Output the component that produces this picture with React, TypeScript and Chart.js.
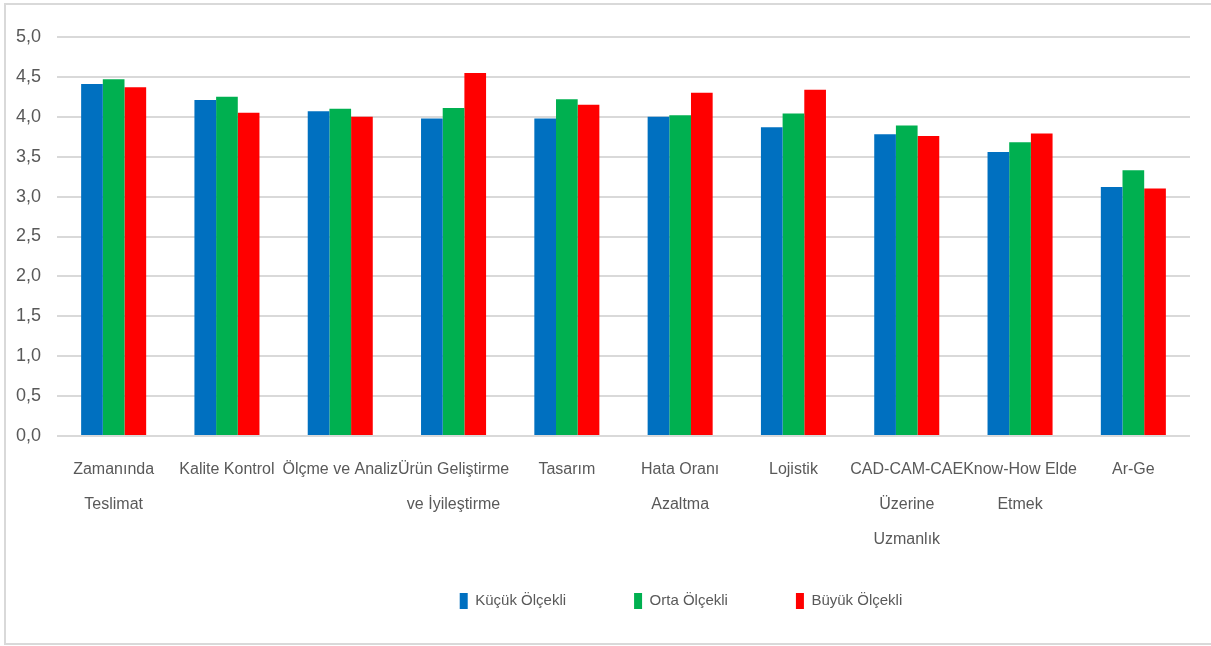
import React, { useEffect, useRef } from "react";
import { Chart, registerables } from "chart.js";

Chart.register(...registerables);

const categories: (string | string[])[] = [
  ["Zamanında", "Teslimat"],
  "Kalite Kontrol",
  "Ölçme ve Analiz",
  ["Ürün Geliştirme", "ve İyileştirme"],
  "Tasarım",
  ["Hata Oranı", "Azaltma"],
  "Lojistik",
  ["CAD-CAM-CAE", "Üzerine", "Uzmanlık"],
  ["Know-How Elde", "Etmek"],
  "Ar-Ge",
];

const kucuk = [4.41, 4.21, 4.07, 3.98, 3.98, 4.0, 3.87, 3.78, 3.56, 3.12];
const orta = [4.47, 4.25, 4.1, 4.11, 4.22, 4.02, 4.04, 3.89, 3.68, 3.33];
const buyuk = [4.37, 4.05, 4.0, 4.55, 4.15, 4.3, 4.34, 3.76, 3.79, 3.1];

const seriesNames = ["Küçük Ölçekli", "Orta Ölçekli", "Büyük Ölçekli"];
const seriesColors = ["#0070C0", "#00B050", "#FF0000"];

const FONT = "'Liberation Sans', Arial, sans-serif";
const TEXT = "#595959";

const framePlugin = {
  id: "frame",
  beforeDraw(chart: any) {
    const ctx = chart.ctx;
    ctx.save();
    ctx.fillStyle = "#ffffff";
    ctx.fillRect(0, 0, chart.width, chart.height);
    ctx.strokeStyle = "#d9d9d9";
    ctx.lineWidth = 2;
    ctx.strokeRect(5, 4, chart.width + 20, 640);
    ctx.restore();
  },
};

// nudge the legend box to where the original places its row
const legendPlace = {
  id: "legendPlace",
  afterLayout(chart: any) {
    const l = chart.legend;
    if (!l) return;
    l.top -= 27;
    l.bottom -= 27;
    l.left += 86;
    l.right += 86;
  },
};

export default function App() {
  const ref = useRef<HTMLCanvasElement>(null);
  useEffect(() => {
    if (!ref.current) return;
    const chart = new Chart(ref.current, {
      type: "bar",
      data: {
        labels: categories,
        datasets: [kucuk, orta, buyuk].map((d, i) => ({
          label: seriesNames[i],
          data: d,
          backgroundColor: seriesColors[i],
          borderWidth: 0,
          barPercentage: 1,
          categoryPercentage: 0.574,
        })),
      },
      options: {
        animation: false,
        responsive: true,
        maintainAspectRatio: false,
        layout: { padding: { left: 0, right: 21, top: 37, bottom: 0 } },
        plugins: {
          tooltip: { enabled: false },
          legend: {
            position: "bottom",
            labels: {
              boxWidth: 8,
              boxHeight: 16,
              padding: 68,
              color: TEXT,
              font: { family: FONT, size: 15 },
            },
          },
        },
        scales: {
          x: {
            grid: { display: false },
            border: { display: false },
            ticks: {
              color: TEXT,
              font: { family: FONT, size: 16, lineHeight: 2.2 },
              padding: 8,
              maxRotation: 0,
              autoSkip: false,
            },
            afterFit(scale: any) {
              scale.height = 116;
            },
          },
          y: {
            min: 0,
            max: 5,
            grid: { color: "#d9d9d9", lineWidth: 2, drawTicks: false },
            border: { display: false },
            ticks: {
              stepSize: 0.5,
              color: TEXT,
              padding: 16,
              font: { family: FONT, size: 18 },
              callback: (v: any) => Number(v).toFixed(1).replace(".", ","),
            },
            afterFit(scale: any) {
              scale.width = 57;
            },
          },
        },
      },
      plugins: [framePlugin, legendPlace],
    });
    return () => chart.destroy();
  }, []);
  return (
    <div style={{ position: "fixed", left: 0, top: 0, width: 1211, height: 646 }}>
      <canvas ref={ref} />
    </div>
  );
}
